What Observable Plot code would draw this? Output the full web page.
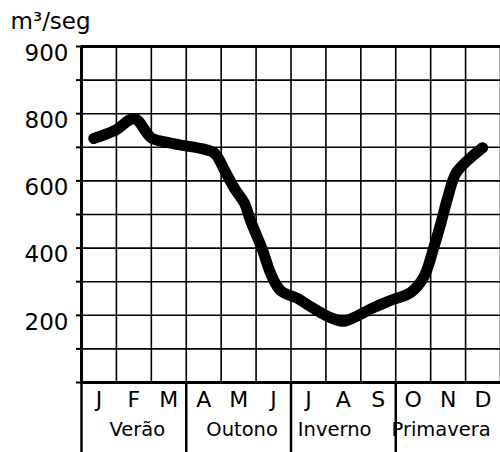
<!DOCTYPE html>
<html><head><meta charset="utf-8">
<script src="https://cdn.jsdelivr.net/npm/d3@7"></script>
<script src="https://cdn.jsdelivr.net/npm/@observablehq/plot@0.6"></script>
<style>html,body{margin:0;padding:0;background:#fff} svg{display:block}</style>
</head><body><div id="chart"></div>
<script>
const months = ["J","F","M","A","M","J","J","A","S","O","N","D"];
const seasons = ["Verão","Outono","Inverno","Primavera"];
const seasonPos = [1.6, 4.6, 7.25, 10.3];
const seasonBounds = [0, 3, 6, 9];
const yTicks = [200, 400, 600, 800, 1000];
const yTickLabels = ["200", "400", "600", "800", "900"];
const unit = "m³/seg";
// flow curve (month position, m³/s)
const flowMonth = [0.35, 0.95, 1.52, 2.0, 2.49, 2.95, 3.44, 3.81, 4.1, 4.38, 4.67, 4.84, 5.19, 5.42, 5.70, 6.19, 6.65, 7.13, 7.51, 7.91, 8.37, 8.85, 9.43, 9.80, 10.09, 10.29, 10.49, 10.72, 11.06, 11.49];
const flowValue = [726, 750, 785, 728, 714, 705, 696, 682, 631, 578, 533, 482, 393, 324, 274, 250, 220, 193, 182, 199, 223, 244, 268, 313, 402, 473, 551, 622, 661, 699];

const data = flowMonth.map((m, i) => ({m, v: flowValue[i]}));
const monthPos = months.map((_, i) => i + 0.5);
const monthLabel = new Map(monthPos.map((p, i) => [p, months[i]]));
const seasonLabel = new Map(seasonPos.map((p, i) => [p, seasons[i]]));
const yLabel = new Map(yTicks.map((t, i) => [t, yTickLabels[i]]));

const plot = Plot.plot({
  width: 500, height: 452,
  marginTop: 46, marginLeft: 81, marginRight: 0, marginBottom: 70,
  style: {fontFamily: "'DejaVu Sans', sans-serif", color: "#000", background: "#fff"},
  x: {domain: [0, 12]},
  y: {domain: [0, 1000]},
  marks: [
    Plot.gridX(d3.range(0, 13), {stroke: "#000", strokeOpacity: 1, strokeWidth: 1.6}),
    Plot.gridY(d3.range(0, 1001, 100), {stroke: "#000", strokeOpacity: 1, strokeWidth: 1.6}),
    Plot.axisY(d3.range(0, 1001, 100), {tickSize: 5, strokeWidth: 2, tickFormat: () => "", label: null}),
    Plot.axisY(yTicks, {tickSize: 0, tickPadding: 13, dy: 7, fontSize: 23, tickFormat: d => yLabel.get(d), label: null}),
    Plot.axisX(monthPos, {tickSize: 0, tickPadding: 9, fontSize: 22, tickFormat: d => monthLabel.get(d), label: null}),
    Plot.axisX(seasonPos, {tickSize: 0, tickPadding: 40, fontSize: 19.5, tickFormat: d => seasonLabel.get(d), label: null}),
    Plot.axisX(seasonBounds, {tickSize: 70, strokeWidth: 2.5, tickFormat: () => "", label: null}),
    Plot.ruleY([0, 1000], {strokeWidth: 3}),
    Plot.ruleX([0], {strokeWidth: 3}),
    Plot.line(data, {x: "m", y: "v", stroke: "#000", strokeWidth: 11, curve: "catmull-rom", strokeLinejoin: "round", strokeLinecap: "round"}),
    Plot.text([unit], {frameAnchor: "top-left", lineAnchor: "middle", dx: -71, dy: -25, textAnchor: "start", fontSize: 23, fill: "#000"})
  ]
});
document.getElementById("chart").appendChild(plot);
</script>
</body></html>
